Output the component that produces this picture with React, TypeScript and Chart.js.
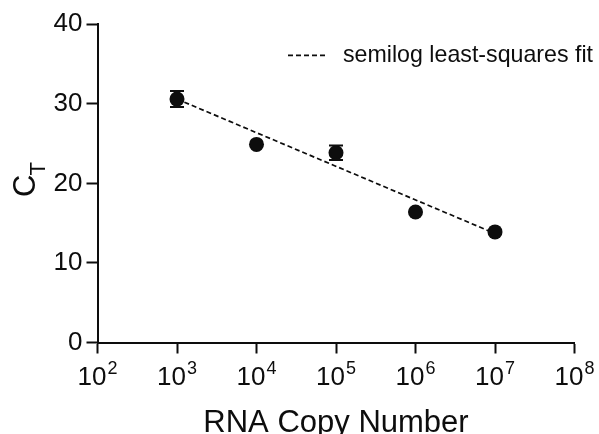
import React, { useEffect, useRef } from "react";
import { Chart, registerables } from "chart.js";

Chart.register(...registerables);

// ---- data ----
const copyNumbers = [1e3, 1e4, 1e5, 1e6, 1e7];
const ctMeans = [30.6, 24.9, 23.85, 16.4, 13.9];
const ctErrors = [1.0, 0, 0.9, 0, 0];
const fitCopyNumbers = [1e3, 1e7];
const fitCt = [30.6, 13.7];
const xTickValues = [1e2, 1e3, 1e4, 1e5, 1e6, 1e7, 1e8];
const xTickBase = "10";
const xTickExponents = ["2", "3", "4", "5", "6", "7", "8"];
const yTickValues = [0, 10, 20, 30, 40];
const legendLabel = "semilog least-squares fit";
const xAxisTitle = "RNA Copy Number";
const yAxisTitleMain = "C";
const yAxisTitleSub = "T";

const FONT = "'Liberation Sans', Arial, Helvetica, sans-serif";
const INK = "#0d0d0d";

const errorBarPlugin = {
  id: "errorBars",
  afterDatasetsDraw(chart: any) {
    const { ctx, scales } = chart;
    const xs = scales.x;
    const ys = scales.y;
    ctx.save();
    ctx.strokeStyle = INK;
    ctx.lineWidth = 2;
    copyNumbers.forEach((cn, i) => {
      const err = ctErrors[i];
      if (!err) return;
      const px = xs.getPixelForValue(cn);
      const top = ys.getPixelForValue(ctMeans[i] + err);
      const bot = ys.getPixelForValue(ctMeans[i] - err);
      ctx.beginPath();
      ctx.moveTo(px, top);
      ctx.lineTo(px, bot);
      ctx.moveTo(px - 7, top);
      ctx.lineTo(px + 7, top);
      ctx.moveTo(px - 7, bot);
      ctx.lineTo(px + 7, bot);
      ctx.stroke();
    });
    ctx.restore();
  },
};

const decorPlugin = {
  id: "decor",
  afterDraw(chart: any) {
    const { ctx, chartArea: ca, scales } = chart;
    const xs = scales.x;
    ctx.save();
    ctx.fillStyle = INK;
    ctx.strokeStyle = INK;

    // x tick labels: 10 with superscript exponent
    xTickValues.forEach((v, i) => {
      const px = xs.getPixelForValue(v);
      ctx.font = `26px ${FONT}`;
      const wb = ctx.measureText(xTickBase).width;
      ctx.font = `18px ${FONT}`;
      const we = ctx.measureText(xTickExponents[i]).width;
      const start = px - (wb + 1 + we) / 2;
      ctx.textAlign = "left";
      ctx.textBaseline = "alphabetic";
      ctx.font = `26px ${FONT}`;
      ctx.fillText(xTickBase, start, ca.bottom + 42);
      ctx.font = `18px ${FONT}`;
      ctx.fillText(xTickExponents[i], start + wb + 1, ca.bottom + 31.5);
    });

    // x axis title
    ctx.font = `31px ${FONT}`;
    ctx.textAlign = "center";
    ctx.textBaseline = "alphabetic";
    ctx.fillText(xAxisTitle, (ca.left + ca.right) / 2, 432);

    // y axis title C_T (rotated)
    ctx.save();
    ctx.translate(35, (ca.top + ca.bottom) / 2 + 13.5);
    ctx.rotate(-Math.PI / 2);
    ctx.textAlign = "left";
    ctx.font = `31px ${FONT}`;
    ctx.fillText(yAxisTitleMain, 0, 0);
    const wc = ctx.measureText(yAxisTitleMain).width;
    ctx.font = `22px ${FONT}`;
    ctx.fillText(yAxisTitleSub, wc - 1, 10);
    ctx.restore();

    // legend
    const ly = ca.top + 31;
    const lx = ca.left + 190.5;
    ctx.lineWidth = 1.7;
    ctx.setLineDash([5, 3]);
    ctx.beginPath();
    ctx.moveTo(lx, ly);
    ctx.lineTo(lx + 37, ly);
    ctx.stroke();
    ctx.setLineDash([]);
    ctx.font = `23.2px ${FONT}`;
    ctx.textAlign = "left";
    ctx.textBaseline = "middle";
    ctx.fillText(legendLabel, lx + 55, ly);
    ctx.restore();
  },
};

export default function App() {
  const ref = useRef<HTMLCanvasElement | null>(null);
  useEffect(() => {
    document.body.style.margin = "0";
    const canvas = ref.current;
    if (!canvas) return;
    const gridOpts = {
      drawOnChartArea: false,
      drawTicks: true,
      tickLength: 11,
      tickColor: INK,
      tickWidth: 2,
    };
    const chart = new Chart(canvas, {
      type: "scatter",
      data: {
        datasets: [
          {
            type: "line",
            label: legendLabel,
            data: fitCopyNumbers.map((x, i) => ({ x, y: fitCt[i] })),
            borderColor: INK,
            borderWidth: 1.7,
            borderDash: [5, 3],
            pointRadius: 0,
            fill: false,
            order: 2,
          } as any,
          {
            label: "CT",
            data: copyNumbers.map((x, i) => ({ x, y: ctMeans[i] })),
            backgroundColor: INK,
            borderWidth: 0,
            pointRadius: 7.5,
            pointHoverRadius: 7.5,
            order: 1,
          },
        ],
      },
      options: {
        animation: false,
        responsive: false,
        maintainAspectRatio: false,
        events: [],
        layout: { padding: { top: 24.3, right: 24.5, left: 0, bottom: 0 } },
        plugins: {
          legend: { display: false },
          tooltip: { enabled: false },
        },
        scales: {
          x: {
            type: "logarithmic",
            min: 1e2,
            max: 1e8,
            afterBuildTicks: (s: any) => {
              s.ticks = xTickValues.map((value) => ({ value }));
            },
            afterFit: (s: any) => {
              s.height = 91.5;
            },
            ticks: { display: false },
            grid: gridOpts,
            border: { display: true, color: INK, width: 2 },
          },
          y: {
            min: 0,
            max: 40,
            afterBuildTicks: (s: any) => {
              s.ticks = yTickValues.map((value) => ({ value }));
            },
            afterFit: (s: any) => {
              s.width = 97.5;
            },
            ticks: {
              color: INK,
              padding: 4,
              font: { family: FONT, size: 26 },
            },
            grid: gridOpts,
            border: { display: true, color: INK, width: 2 },
          },
        },
      } as any,
      plugins: [errorBarPlugin, decorPlugin],
    });
    return () => chart.destroy();
  }, []);
  return (
    <div style={{ width: 599, height: 434, background: "#fff" }}>
      <canvas ref={ref} width={599} height={434} style={{ display: "block" }} />
    </div>
  );
}
